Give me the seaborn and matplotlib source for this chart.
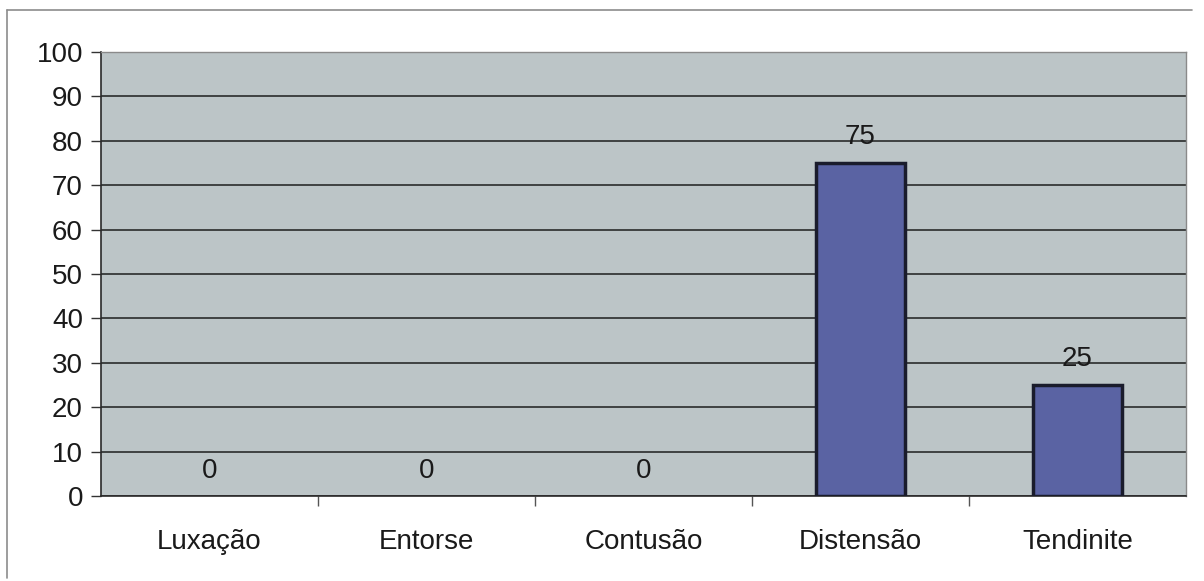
import matplotlib
matplotlib.use("Agg")
import matplotlib.pyplot as plt
import seaborn as sns
import pandas as pd
from matplotlib.lines import Line2D
from matplotlib.ticker import FixedLocator

categories = ["Luxação", "Entorse", "Contusão", "Distensão", "Tendinite"]
values = [0, 0, 0, 75, 25]
yticks = [0, 10, 20, 30, 40, 50, 60, 70, 80, 90, 100]

sns.set_theme(style="white")
plt.rcParams['font.family'] = ['Liberation Sans', 'DejaVu Sans']

df = pd.DataFrame({"cat": categories, "val": values})

fig = plt.figure(figsize=(12.04, 5.81), dpi=100)
ax = fig.add_axes([101/1204, 1-496/581, (1186-101)/1204, (496-52)/581])
ax.set_facecolor("#bcc5c7")

sns.barplot(data=df, x="cat", y="val", ax=ax, color="#5a63a3", width=0.41,
            edgecolor="#1a1c2c", linewidth=2.5, saturation=1, zorder=3)

# hide outlines of zero-height bars
for patch, v in zip(ax.patches, values):
    if v == 0:
        patch.set_linewidth(0)

ax.set_ylim(0, 100)
ax.set_xlim(-0.5, len(categories) - 0.5)
ax.set_yticks(yticks)
ax.set_yticklabels([str(t) for t in yticks])
ax.yaxis.grid(True, color="#1e1e1e", linewidth=1.1, zorder=1)
ax.set_axisbelow(True)
ax.set_xlabel("")
ax.set_ylabel("")

for c in ax.containers:
    ax.bar_label(c, labels=[str(v) for v in values], padding=9,
                 fontsize=20, color="#1a1a1a")

ax.tick_params(axis="y", which="major", left=True, length=7, width=1,
               color="#333333", labelsize=20, labelcolor="#1a1a1a", pad=6)
ax.tick_params(axis="x", which="major", bottom=False, labelsize=20,
               labelcolor="#1a1a1a", pad=18)
ax.xaxis.set_minor_locator(FixedLocator([i + 0.5 for i in range(len(categories) - 1)]))
ax.tick_params(axis="x", which="minor", bottom=True, length=7, width=1,
               color="#555555")

for s in ["left", "bottom"]:
    ax.spines[s].set_color("#2a2a2a")
    ax.spines[s].set_linewidth(1.2)
for s in ["top", "right"]:
    ax.spines[s].set_color("#8a8a8a")
    ax.spines[s].set_linewidth(1.0)

# outer chart frame
fig.add_artist(Line2D([7/1204, 1192/1204], [1-10/581, 1-10/581],
                      transform=fig.transFigure, color="#8c8c8c", linewidth=1.2))
fig.add_artist(Line2D([7/1204, 7/1204], [1-10/581, 1-578/581],
                      transform=fig.transFigure, color="#8c8c8c", linewidth=1.2))

fig.savefig("out.png", dpi=100, facecolor="white")
